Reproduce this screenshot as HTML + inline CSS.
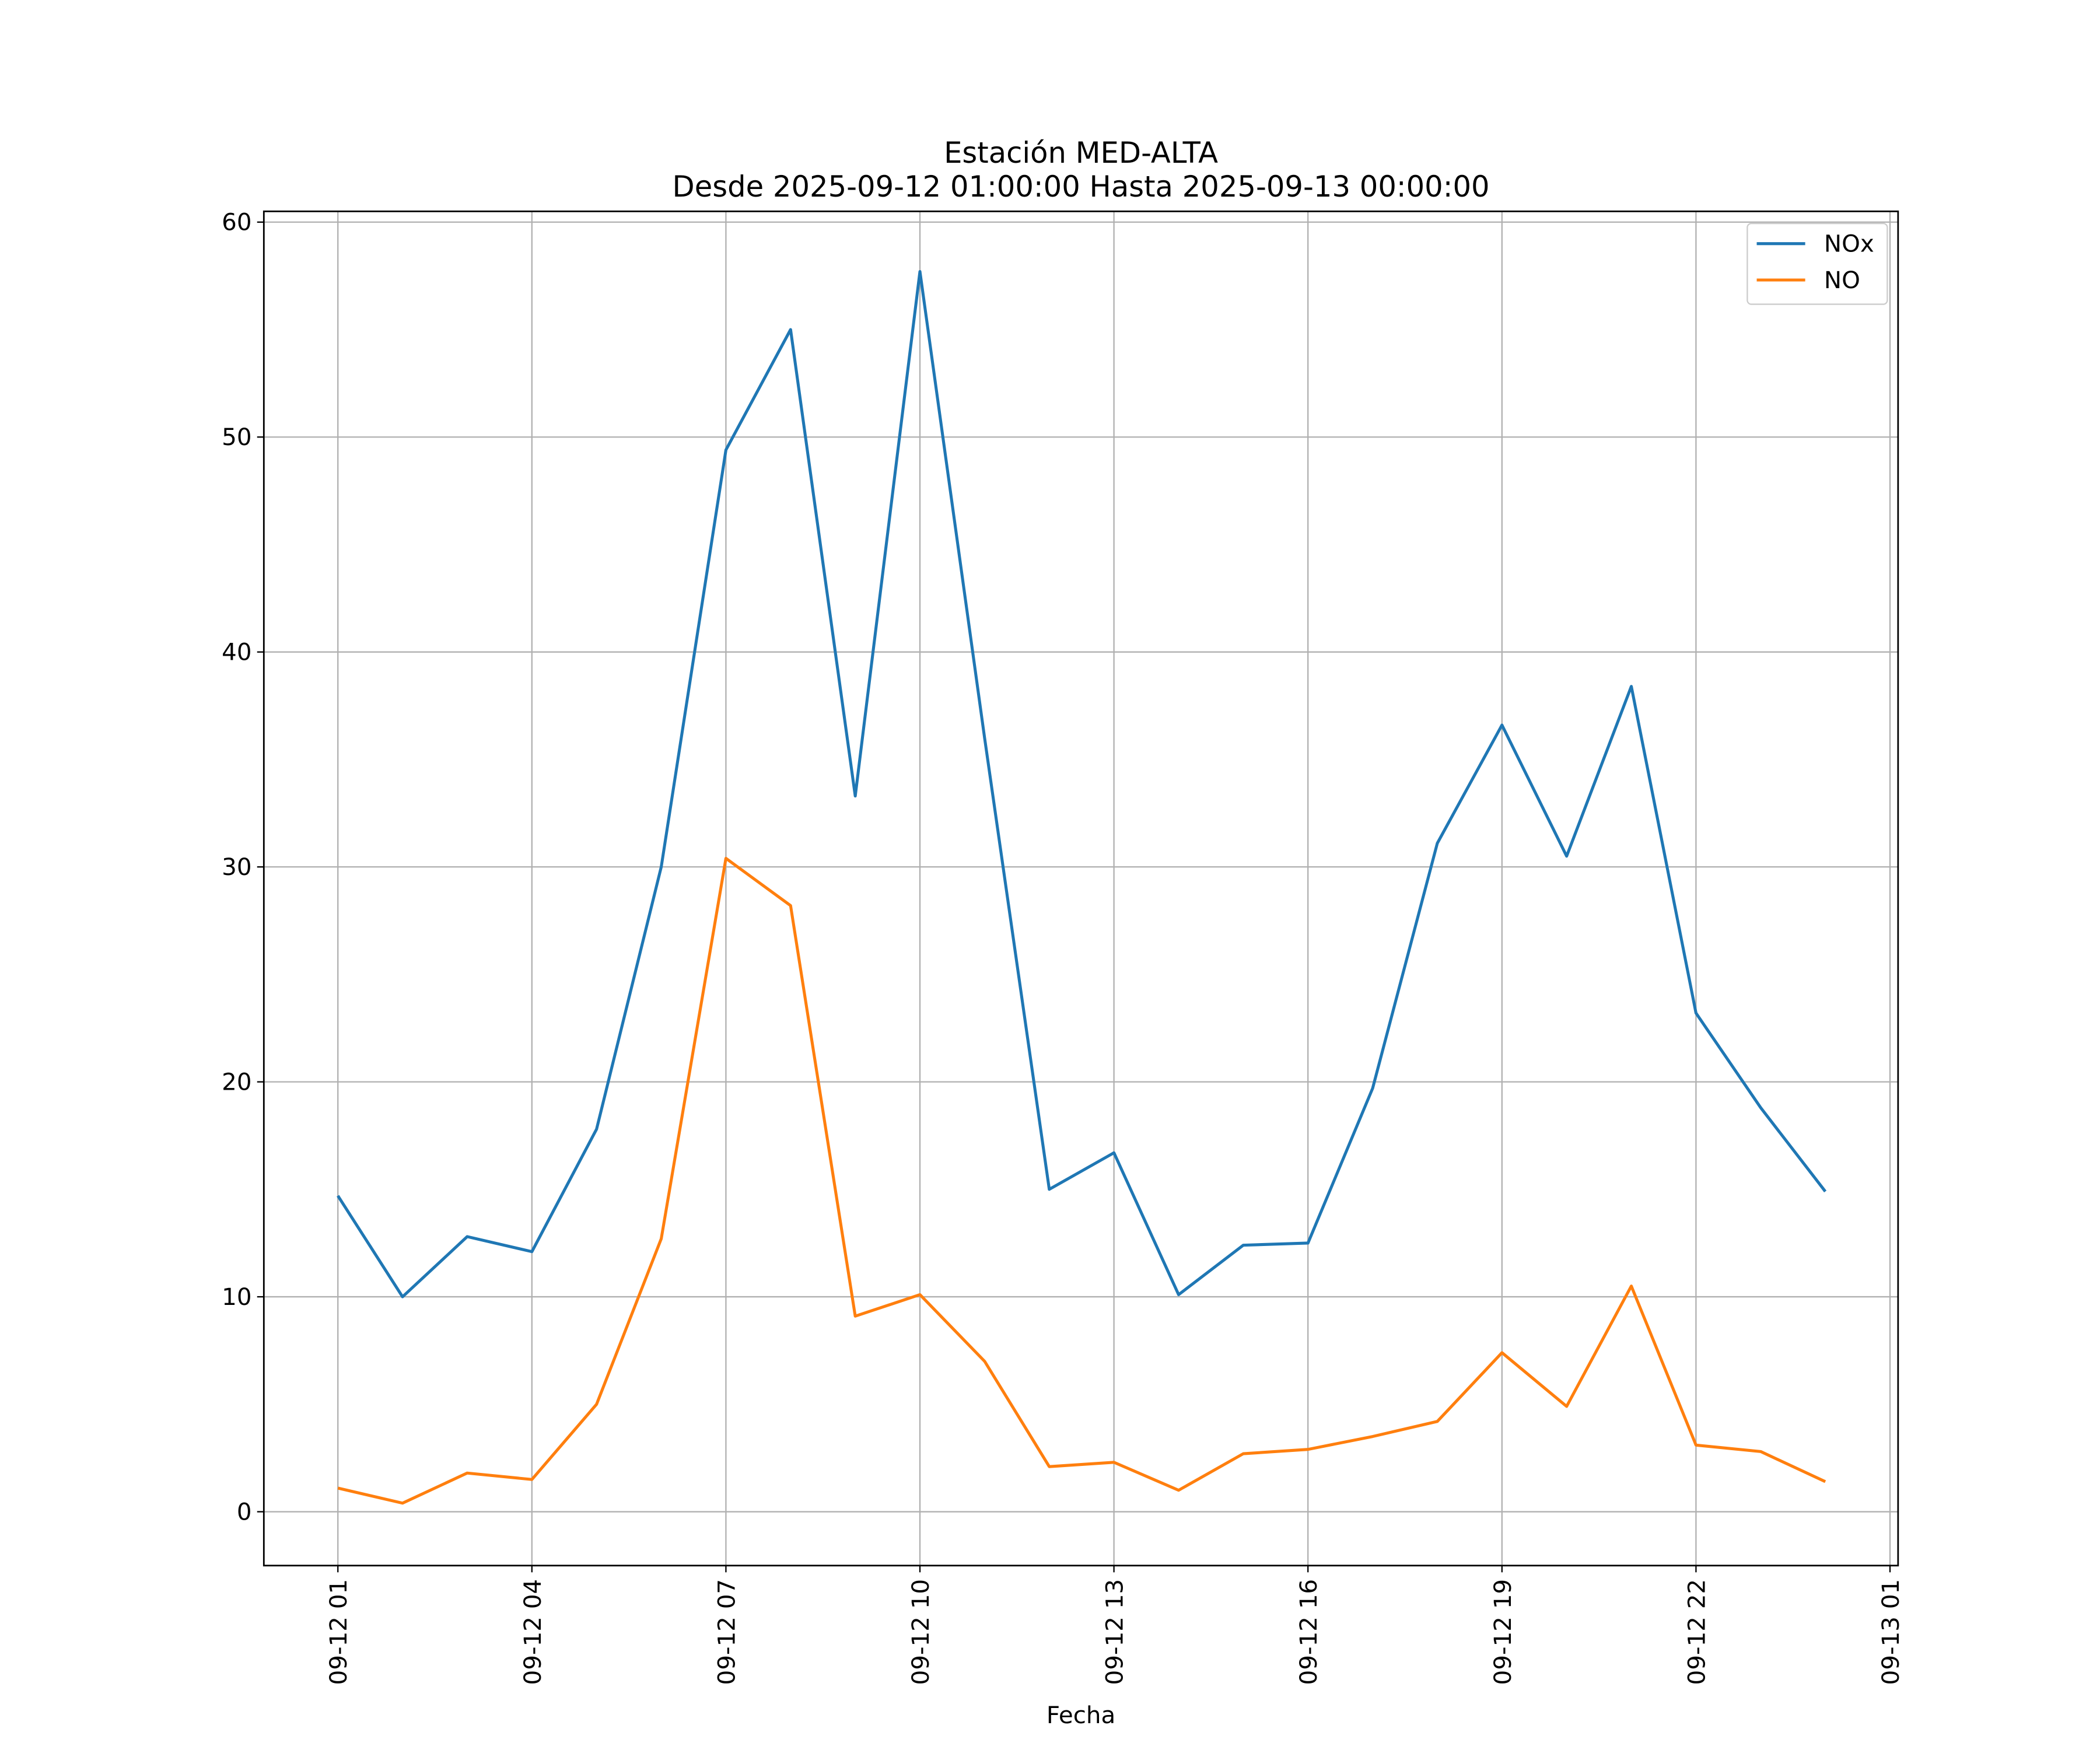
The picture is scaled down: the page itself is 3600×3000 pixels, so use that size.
<!DOCTYPE html>
<html><head><meta charset="utf-8"><style>
html,body{margin:0;padding:0;background:#fff;}
svg{display:block;font-family:"DejaVu Sans","Liberation Sans",sans-serif;}
</style></head><body>
<svg id="chart" width="3600" height="3000" viewBox="0 0 1560 1300" xmlns="http://www.w3.org/2000/svg">
<rect x="0" y="0" width="1560" height="1300" fill="#fff"/>
<text x="803" y="121" font-size="21.5" text-anchor="middle">Estación MED-ALTA</text>
<text x="803" y="146" font-size="21.5" text-anchor="middle">Desde 2025-09-12 01:00:00 Hasta 2025-09-13 00:00:00</text>
<g id="grid"></g>
<g id="series"></g>
<rect x="196" y="157" width="1214" height="1006" fill="none" stroke="#000" stroke-width="1.2"/>
<g id="ticks"></g>
<text x="803" y="1280" font-size="17.5" text-anchor="middle">Fecha</text>
<g>
<rect x="1298" y="166" width="104" height="60" rx="3" fill="#fff" stroke="#ccc"/>
<line x1="1305" y1="181" x2="1341" y2="181" stroke="#1f77b4" stroke-width="2.2"/>
<text x="1355" y="187" font-size="17.5">NOx</text>
<line x1="1305" y1="208" x2="1341" y2="208" stroke="#ff7f0e" stroke-width="2.2"/>
<text x="1355" y="214" font-size="17.5">NO</text>
</g>
</svg>
<script>
const hours = [1,2,3,4,5,6,7,8,9,10,11,12,13,14,15,16,17,18,19,20,21,22,23,24];
const noxValues = [14.7,10.0,12.8,12.1,17.8,30.0,49.4,55.0,33.3,57.7,36.0,15.0,16.7,10.1,12.4,12.5,19.7,31.1,36.6,30.5,38.4,23.2,18.8,14.9];
const noValues = [1.1,0.4,1.8,1.5,5.0,12.7,30.4,28.2,9.1,10.1,7.0,2.1,2.3,1.0,2.7,2.9,3.5,4.2,7.4,4.9,10.5,3.1,2.8,1.4];
const yTicks = [0,10,20,30,40,50,60];
const xTickHours = [1,4,7,10,13,16,19,22,25];
const xTickLabels = ["09-12 01","09-12 04","09-12 07","09-12 10","09-12 13","09-12 16","09-12 19","09-12 22","09-13 01"];

const NS = "http://www.w3.org/2000/svg";
const L=196,R=1410,T=157,B=1163;
function xs(h){return 251+(h-1)*(1404-251)/24;}
function ys(v){return 1123-v*(1123-165)/60;}
function mk(tag,attrs,parent){const e=document.createElementNS(NS,tag);for(const k in attrs)e.setAttribute(k,attrs[k]);parent.appendChild(e);return e;}
const grid=document.getElementById('grid'),ticks=document.getElementById('ticks'),series=document.getElementById('series');
yTicks.forEach(v=>{
  const y=ys(v);
  const g=mk('line',{x1:L,x2:R,y1:y,y2:y,stroke:'#b0b0b0','stroke-width':1},grid);
  
  
  mk('line',{x1:L-5,x2:L,y1:y,y2:y,stroke:'#000','stroke-width':1},ticks);
  const t=mk('text',{x:L-9,y:y+6,'font-size':17.5,'text-anchor':'end'},ticks);
  t.textContent=String(v);
  
  
});
xTickHours.forEach((h,i)=>{
  const x=xs(h);
  const g=mk('line',{x1:x,x2:x,y1:T,y2:B,stroke:'#b0b0b0','stroke-width':1},grid);
  
  
  mk('line',{x1:x,x2:x,y1:B,y2:B+5,stroke:'#000','stroke-width':1},ticks);
  const t=mk('text',{x:0,y:0,'font-size':17.5,'text-anchor':'end',transform:`translate(${x+6.5},${B+10}) rotate(-90)`},ticks);
  t.textContent=xTickLabels[i];
  
  
});
function drawLine(vals,color,name){
  const pts=vals.map((v,i)=>xs(hours[i]).toFixed(2)+','+ys(v).toFixed(2)).join(' ');
  const p=mk('polyline',{points:pts,fill:'none',stroke:color,'stroke-width':2.2,'stroke-linejoin':'round'},series);
  
  
}
drawLine(noxValues,'#1f77b4','nox-line');
drawLine(noValues,'#ff7f0e','no-line');
</script>
</body></html>
